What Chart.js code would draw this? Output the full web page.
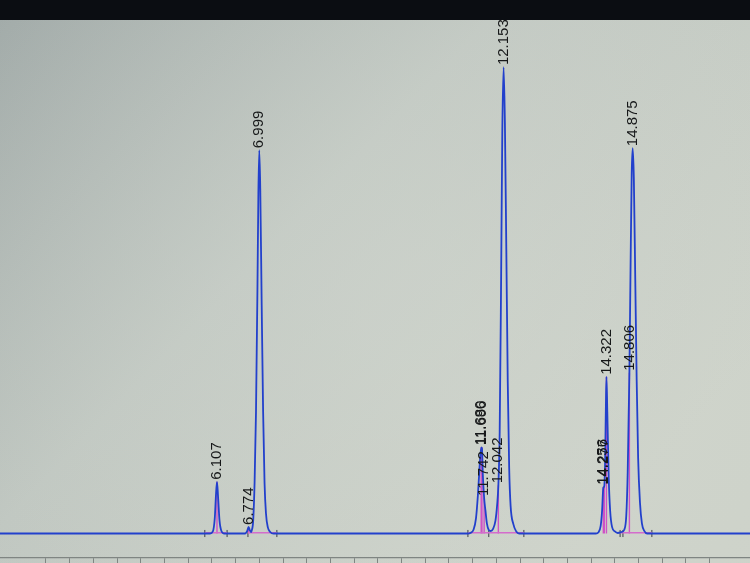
<!DOCTYPE html>
<html>
<head>
<meta charset="utf-8">
<script src="https://cdn.jsdelivr.net/npm/chart.js@4.4.1/dist/chart.umd.min.js"></script>
<style>
html,body{margin:0;padding:0;background:#b8bfb9;overflow:hidden;}
canvas{display:block;}
</style>
</head>
<body>
<canvas id="c" width="750" height="563"></canvas>
<script>
// ---- data (retention time in min, signal in arbitrary units) ----
const traceTime = [
  1.53, 5.90,
  5.96, 6.02, 6.06, 6.085, 6.107, 6.13, 6.16, 6.20, 6.26,
  6.70, 6.745, 6.774, 6.80, 6.825,
  6.84, 6.87, 6.90, 6.93, 6.96, 6.98, 6.999, 7.02, 7.05, 7.08, 7.11, 7.14, 7.18, 7.23, 7.30,
  11.40, 11.45, 11.52, 11.57, 11.61, 11.645, 11.68, 11.696, 11.715, 11.742, 11.77, 11.80, 11.84, 11.88,
  11.93, 11.98, 12.015, 12.042, 12.07, 12.10, 12.125, 12.153, 12.18, 12.21, 12.24, 12.27, 12.30, 12.36, 12.42, 12.48,
  14.10, 14.15, 14.20, 14.23, 14.256, 14.277, 14.295, 14.31, 14.322, 14.34, 14.37, 14.40, 14.44, 14.50, 14.56,
  14.64, 14.70, 14.74, 14.77, 14.79, 14.806, 14.83, 14.855, 14.875, 14.90, 14.93, 14.96, 14.99, 15.03, 15.07, 15.12, 15.18,
  17.35
];
const traceSignal = [
  0, 0,
  0, 0.4, 3, 7.5, 10.2, 7.2, 2.6, 0.5, 0,
  0, 0.5, 1.3, 0.6, 0.3,
  0.6, 2.5, 10, 24, 48, 67, 75.6, 68, 45, 24, 10, 4, 1.2, 0.3, 0,
  0, 0.1, 0.8, 3, 7.5, 13, 17, 16.8, 11.5, 7, 4.5, 2, 0.7, 0.5,
  0.9, 2.5, 5.5, 9.5, 20, 50, 79, 92, 81, 56, 30, 13, 5.5, 1.8, 0.4, 0,
  0, 0.2, 1.5, 4.5, 9, 9.4, 15, 25, 30.9, 24, 11, 4.5, 1.3, 0.4, 0.1,
  0.3, 0.8, 3.5, 12, 23, 31.7, 52, 71, 76, 70, 50, 30, 15, 6, 2, 0.5, 0,
  0
];
const peakTimes   = [6.107, 6.774, 6.999, 11.680, 11.696, 11.742, 12.042, 12.153, 14.256, 14.277, 14.322, 14.806, 14.875];
const peakHeights = [10.2, 1.3, 75.6, 17, 17, 7, 9.5, 92, 9.2, 9.2, 30.9, 31.7, 76];
const peakLabels  = ["6.107", "6.774", "6.999", "11.680", "11.696", "11.742", "12.042", "12.153", "14.256", "14.277", "14.322", "14.806", "14.875"];
const integStart  = [5.85, 6.76, 11.40, 14.61];
const integEnd    = [6.32, 7.37, 12.58, 15.28];
const markTimes   = [5.85, 6.32, 6.76, 7.37, 11.40, 11.84, 12.58, 14.61, 14.67, 15.28];
const timeMin = 1.53, timeMax = 17.35, tickStep = 0.5;
const signalMin = -4.83, signalMax = 105.23;

// ---- derived datasets ----
const tracePts = traceTime.map((t, i) => ({x: t, y: traceSignal[i]}));
const dropPts = [];
peakTimes.forEach((t, i) => {
  if (peakHeights[i] < 50) dropPts.push({x: t, y: 0}, {x: t, y: peakHeights[i]}, {x: t, y: null});
});
const basePts = [];
integStart.forEach((s, i) => { basePts.push({x: s, y: 0.15}, {x: integEnd[i], y: 0.15}, {x: integEnd[i], y: null}); });
const markPts = [];
markTimes.forEach(t => { markPts.push({x: t, y: -0.7}, {x: t, y: 0.7}, {x: t, y: null}); });

const paperPlugin = {
  id: 'paper',
  beforeDraw(chart) {
    const ctx = chart.ctx, w = chart.width, h = chart.height;
    ctx.save();
    const g = ctx.createLinearGradient(0, 20, w * 0.75, h);
    g.addColorStop(0, '#a2aba9');
    g.addColorStop(0.45, '#c0c7c1');
    g.addColorStop(1, '#cdd2c9');
    ctx.fillStyle = g;
    ctx.fillRect(0, 0, w, h);
    const r = ctx.createRadialGradient(w * 0.55, h * 0.55, 50, w * 0.55, h * 0.55, 520);
    r.addColorStop(0, 'rgba(215,220,212,0.35)');
    r.addColorStop(1, 'rgba(215,220,212,0)');
    ctx.fillStyle = r;
    ctx.fillRect(0, 0, w, h);
    ctx.restore();
  },
  afterDatasetsDraw(chart) {
    const ctx = chart.ctx, xs = chart.scales.x, ys = chart.scales.y;
    ctx.save();
    ctx.fillStyle = '#161819';
    ctx.font = '15px "Liberation Sans", Arial, sans-serif';
    ctx.textAlign = 'left';
    ctx.textBaseline = 'middle';
    peakTimes.forEach((t, i) => {
      const px = xs.getPixelForValue(t);
      const py = ys.getPixelForValue(peakHeights[i]);
      ctx.save();
      ctx.translate(px, py - 2);
      ctx.rotate(-Math.PI / 2);
      ctx.fillText(peakLabels[i], 0, 0);
      ctx.restore();
    });
    ctx.restore();
  },
  afterDraw(chart) {
    const ctx = chart.ctx;
    ctx.save();
    ctx.fillStyle = '#0b0d12';
    ctx.fillRect(0, 0, chart.width, 20);
    ctx.restore();
  }
};

new Chart(document.getElementById('c'), {
  type: 'scatter',
  data: {
    datasets: [
      {data: tracePts, showLine: true, pointRadius: 0, borderColor: '#2240cc', borderWidth: 1.8,
       cubicInterpolationMode: 'monotone', order: 0},
      {data: dropPts, showLine: true, spanGaps: false, pointRadius: 0, borderColor: '#cf52c6', borderWidth: 1.4, order: 2},
      {data: basePts, showLine: true, spanGaps: false, pointRadius: 0, borderColor: '#d46ccc', borderWidth: 1.4, order: 1},
      {data: markPts, showLine: true, spanGaps: false, pointRadius: 0, borderColor: '#3a3e46', borderWidth: 1, order: 3}
    ]
  },
  options: {
    responsive: false,
    animation: false,
    layout: {padding: 0},
    plugins: {legend: {display: false}, tooltip: {enabled: false}},
    scales: {
      x: {
        type: 'linear', min: timeMin, max: timeMax,
        ticks: {display: false, stepSize: tickStep},
        afterBuildTicks(scale) {
          scale.ticks = scale.ticks.filter(tk => Math.abs(tk.value / tickStep - Math.round(tk.value / tickStep)) < 1e-6);
        },
        grid: {drawOnChartArea: false, drawTicks: true, tickLength: 5, color: '#7f8582', lineWidth: 1},
        border: {color: '#7f8582', width: 1.2}
      },
      y: {display: false, min: signalMin, max: signalMax}
    }
  },
  plugins: [paperPlugin]
});
</script>
</body>
</html>
